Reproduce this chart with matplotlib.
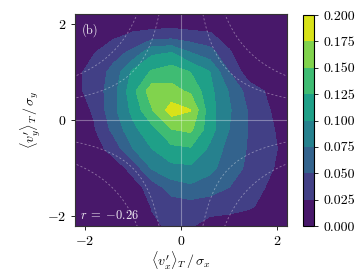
import matplotlib
matplotlib.use('Agg')
import matplotlib.pyplot as plt
import numpy as np

plt.rcParams['font.family'] = 'serif'
plt.rcParams['font.serif'] = ['cmr10', 'DejaVu Serif']
plt.rcParams['mathtext.fontset'] = 'cm'
plt.rcParams['axes.formatter.use_mathtext'] = True
plt.rcParams['axes.unicode_minus'] = True

# grid nodes (normalised velocities) and joint density
x_nodes = [-2.2, -1.8, -1.4, -1.0, -0.6, -0.2, 0.2, 0.6, 1.0, 1.4, 1.8, 2.2]
y_nodes = [-2.2, -1.8, -1.4, -1.0, -0.6, -0.2, 0.2, 0.6, 1.0, 1.4, 1.8, 2.2]

# rows go from bottom (y=-2.2) to top (y=2.2)
density = [
    [0.001, 0.002, 0.004, 0.008, 0.022, 0.028, 0.027, 0.015, 0.012, 0.008, 0.005, 0.003],
    [0.002, 0.003, 0.006, 0.011, 0.026, 0.035, 0.038, 0.035, 0.033, 0.028, 0.018, 0.010],
    [0.003, 0.005, 0.009, 0.015, 0.035, 0.062, 0.070, 0.062, 0.050, 0.037, 0.023, 0.012],
    [0.004, 0.008, 0.012, 0.033, 0.078, 0.093, 0.095, 0.082, 0.062, 0.045, 0.029, 0.016],
    [0.006, 0.014, 0.035, 0.074, 0.100, 0.118, 0.122, 0.095, 0.065, 0.048, 0.032, 0.018],
    [0.010, 0.023, 0.057, 0.093, 0.117, 0.149, 0.155, 0.110, 0.075, 0.049, 0.030, 0.016],
    [0.012, 0.028, 0.068, 0.107, 0.148, 0.187, 0.176, 0.110, 0.078, 0.048, 0.027, 0.012],
    [0.018, 0.035, 0.065, 0.117, 0.165, 0.158, 0.146, 0.107, 0.073, 0.040, 0.022, 0.010],
    [0.018, 0.035, 0.058, 0.105, 0.128, 0.138, 0.124, 0.100, 0.050, 0.010, 0.008, 0.005],
    [0.008, 0.024, 0.040, 0.056, 0.095, 0.100, 0.075, 0.060, 0.027, 0.010, 0.007, 0.004],
    [0.006, 0.010, 0.018, 0.026, 0.028, 0.029, 0.028, 0.026, 0.016, 0.010, 0.006, 0.004],
    [0.003, 0.005, 0.008, 0.012, 0.012, 0.013, 0.008, 0.006, 0.005, 0.004, 0.003, 0.002],
]

levels = [0.0, 0.025, 0.05, 0.075, 0.1, 0.125, 0.15, 0.175, 0.2]
hyperbola_c = [-2, -1, 1, 2]
panel_label = '(b)'
corr_r = -0.26

fig = plt.figure(figsize=(3.63, 2.73), dpi=100)
ax = fig.add_axes([0.2066, 0.172, 0.584, 0.777])
cax = fig.add_axes([0.834, 0.172, 0.031, 0.773])

X, Y = np.meshgrid(x_nodes, y_nodes)
cf = ax.contourf(X, Y, np.array(density), levels=levels, cmap='viridis')

# x*y = const guide curves
for c in hyperbola_c:
    for sgn in (-1, 1):
        xs = np.linspace(0.05, 2.3, 200) * sgn
        ys = c / xs
        ok = np.abs(ys) < 2.4
        ax.plot(xs[ok], ys[ok], color='white', lw=0.6, alpha=0.4,
                dashes=(2.5, 2.5))

ax.axhline(0, color='white', lw=0.8, alpha=0.35)
ax.axvline(0, color='white', lw=0.8, alpha=0.35)

ax.set_xlim(-2.2, 2.2)
ax.set_ylim(-2.2, 2.2)
ax.set_xticks([-2, 0, 2])
ax.set_yticks([-2, 0, 2])
ax.tick_params(labelsize=10, length=3, width=0.6)
for s in ax.spines.values():
    s.set_linewidth(0.8)
    s.set_color('#333333')

ax.set_xlabel(r'$\langle v^\prime_x\rangle_T\,/\,\sigma_x$', fontsize=10, labelpad=1)
ax.set_ylabel(r'$\langle v^\prime_y\rangle_T\,/\,\sigma_y$', fontsize=10, labelpad=3)

sign = '{-}' if corr_r < 0 else ''
ax.text(0.03, 0.955, panel_label, transform=ax.transAxes, color='white',
        fontsize=9, va='top', ha='left', alpha=0.9)
ax.text(0.022, 0.018, r'$r\;=\;%s%.2f$' % (sign, abs(corr_r)), transform=ax.transAxes,
        color='white', fontsize=9, va='bottom', ha='left', alpha=0.9)

cb = fig.colorbar(cf, cax=cax)
cb.set_ticks(levels)
cb.ax.set_yticklabels(['%.3f' % v for v in levels])
cb.ax.tick_params(labelsize=10, length=3, width=0.6)
cb.outline.set_linewidth(0.8)

fig.savefig('out.png', dpi=100)
